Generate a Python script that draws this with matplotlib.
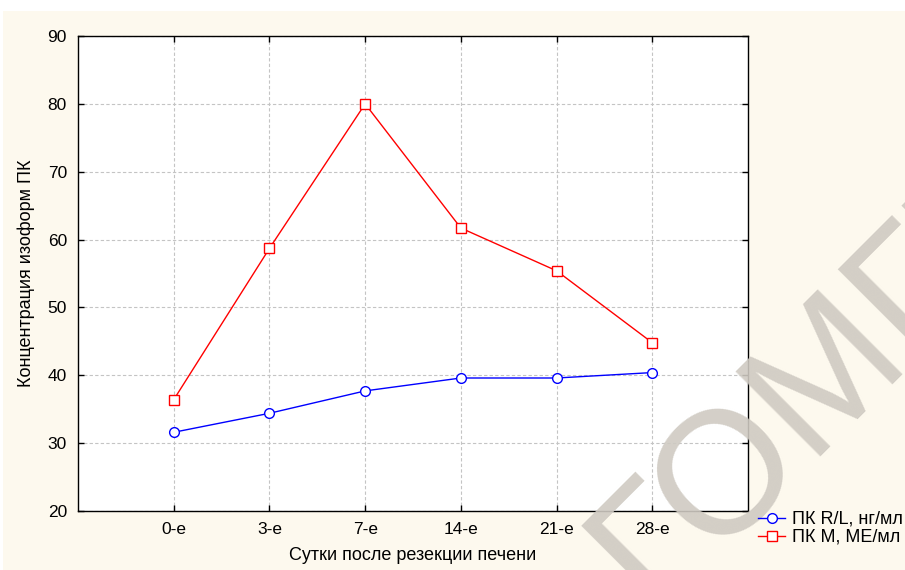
import matplotlib.pyplot as plt
from matplotlib.patches import Rectangle

plt.rcParams['font.family'] = ['Liberation Sans', 'DejaVu Sans']

# days after liver resection
days = ['0-е', '3-е', '7-е', '14-е', '21-е', '28-е']
pk_rl = [31.6, 34.4, 37.7, 39.6, 39.6, 40.4]   # ПК R/L, нг/мл
pk_m = [36.4, 58.7, 80.0, 61.7, 55.4, 44.8]    # ПК М, МЕ/мл

fig = plt.figure(figsize=(9.05, 5.7), dpi=100, facecolor='white')
#beige page background, white strip on top
fig.patches.append(Rectangle((3 / 905, 0), 1, 559 / 570, transform=fig.transFigure,
                             facecolor='#fdf9ee', edgecolor='none', zorder=-10))

ax = fig.add_axes([78 / 905, 59 / 570, 670 / 905, 475 / 570])
ax.set_facecolor('white')
x = list(range(len(days)))
ax.plot(x, pk_rl, color='#0000ff', lw=1, marker='o', ms=7, mfc='white', mec='#0000ff',
        mew=1, label='ПК R/L, нг/мл', zorder=3)
ax.plot(x, pk_m, color='#ff0000', lw=1, marker='s', ms=7, mfc='white', mec='#ff0000',
        mew=1, label='ПК М, МЕ/мл', zorder=3)

ax.set_xlim(-1, 6)
ax.set_ylim(20, 90)
ax.set_xticks(x)
ax.set_xticklabels(days)
ax.set_yticks(range(20, 91, 10))
ax.tick_params(direction='in', length=4, width=1, labelsize=12.5, top=True, right=True,
               pad=8, colors='black')
ax.grid(True, color='#c4c4c4', linestyle=(0, (3, 2)), linewidth=0.8)
for s in ax.spines.values():
    s.set_linewidth(1)
    s.set_color('black')

ax.set_xlabel('Сутки после резекции печени', fontsize=13, labelpad=7)
ax.set_ylabel('Концентрация изоформ ПК', fontsize=13, labelpad=9)

leg = fig.legend(loc='upper left', bbox_to_anchor=(758 / 905, 1 - 511 / 570), frameon=False,
                 fontsize=13, handlelength=1.5, handletextpad=0.4, labelspacing=0.05,
                 borderaxespad=0, borderpad=0)
leg.set_zorder(30)

#watermark
fig.text(652 / 905, -41 / 570, 'ГОМГМУ', fontsize=125, color='#cfcac2', alpha=0.9,
         rotation=45, rotation_mode='anchor', ha='left', va='baseline', zorder=20)

fig.savefig('out.png', dpi=100, facecolor=fig.get_facecolor())
